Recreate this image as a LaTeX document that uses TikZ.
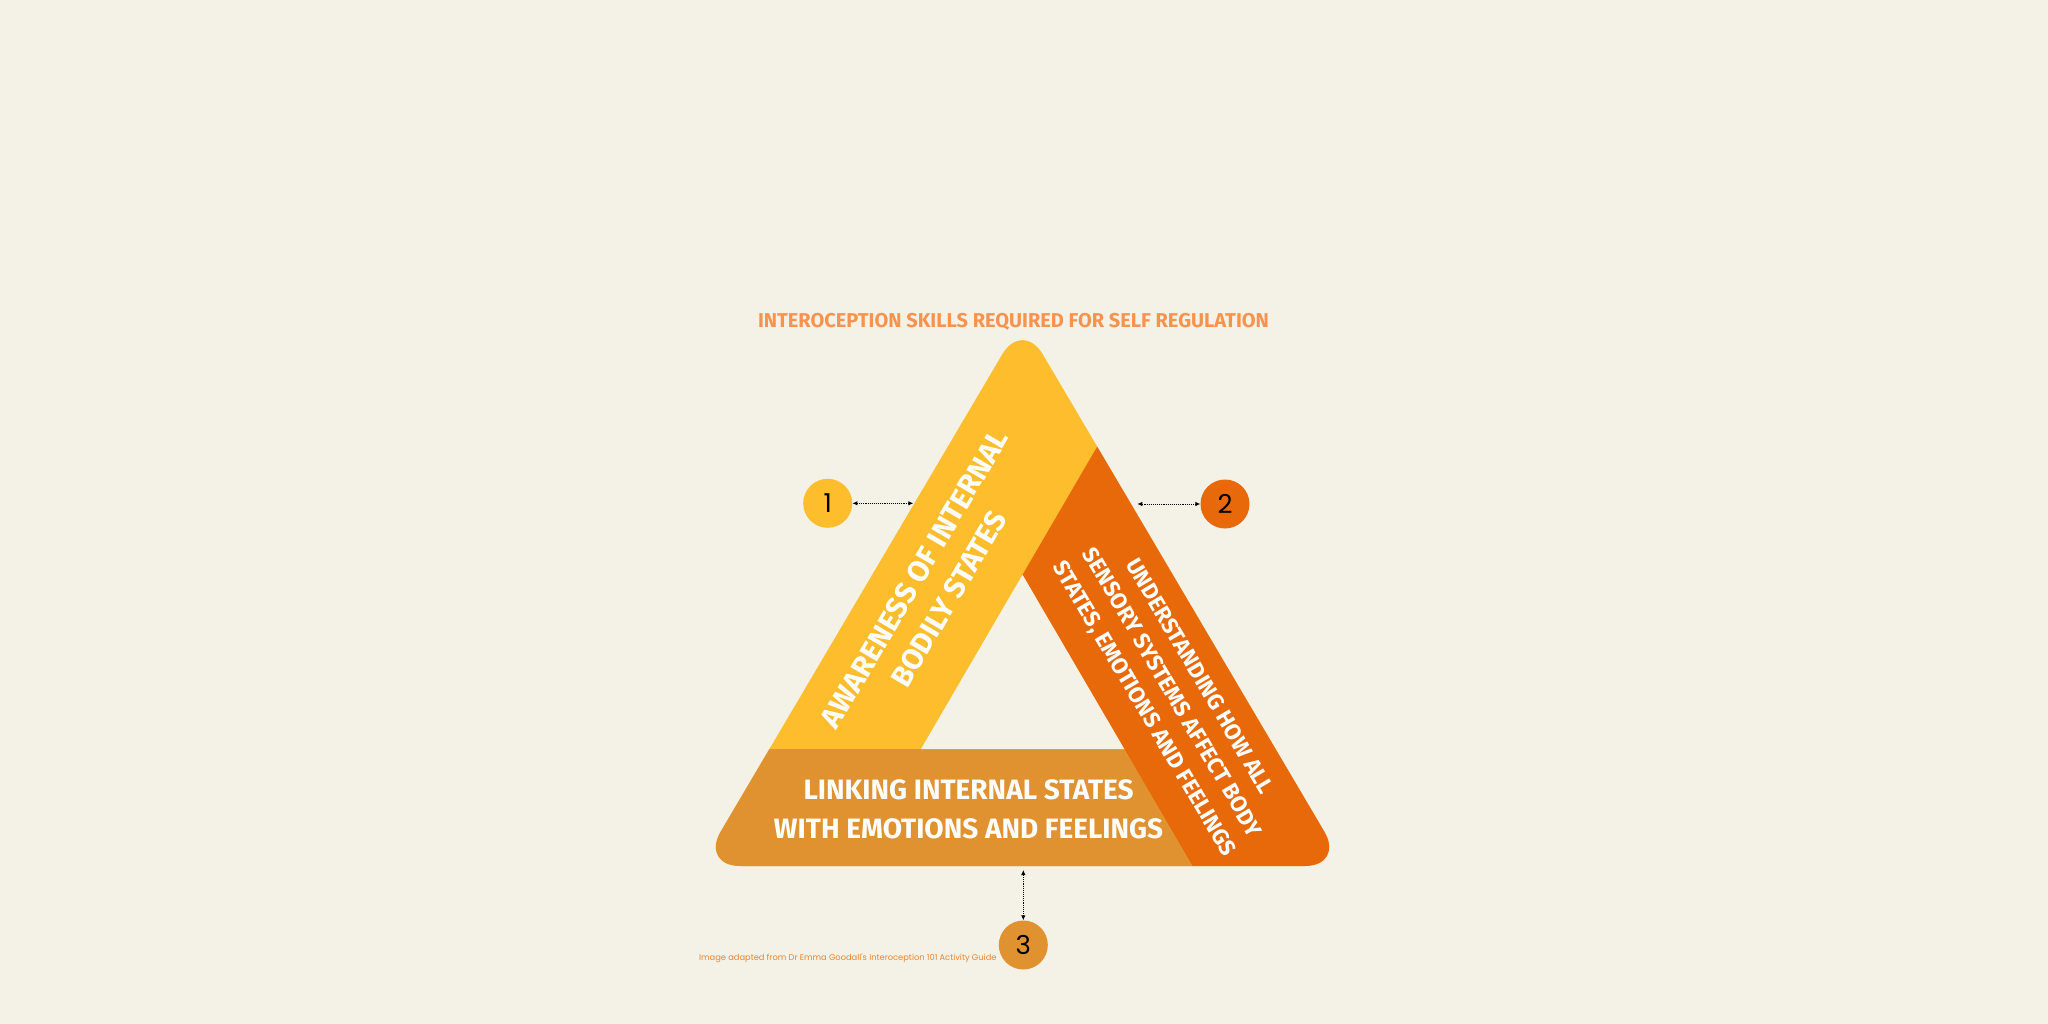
\documentclass[tikz,border=0pt]{standalone}
\usepackage{fontspec}
\usepackage{tikz}
\usetikzlibrary{arrows.meta,calc}

\newfontfamily\armfont{Fira Sans}
\newfontfamily\creditfont{Poppins}

\definecolor{paper}{HTML}{F4F2E6}
\definecolor{armyellow}{HTML}{FDBD2D}
\definecolor{armorange}{HTML}{E8690A}
\definecolor{barorange}{HTML}{E09130}
\definecolor{titleorange}{HTML}{F7934E}
\definecolor{creditorange}{HTML}{E8842F}

\begin{document}
\begin{tikzpicture}[x=1pt,y=-1pt,
    armtext/.style={text=white,align=center,inner sep=0pt},
    badge/.style={circle,minimum size=49pt,inner sep=0pt,text=black,
        font=\creditfont\fontsize{26}{26}\selectfont},
    link/.style={densely dotted,line width=0.9pt,
        {Latex[length=5pt,width=4.5pt]}-{Latex[length=5pt,width=4.5pt]}}]

    % Page
    \fill[paper] (0,0) rectangle (2048,1024);
    \useasboundingbox (0,0) rectangle (2048,1024);

    % Triangle corners
    \coordinate (top) at (1022.5,320);
    \coordinate (bl) at (700.4,866);
    \coordinate (br) at (1344.6,866);

    % Where the arms meet
    \coordinate (split) at (1097.2,446.6);
    \coordinate (inapex) at (1022.5,574.8);
    \coordinate (inleft) at (921,749);
    \coordinate (inright) at (1124.3,749);
    \coordinate (splitbase) at (1192.3,866);

    % Yellow arm (whole triangle first)
    \fill[armyellow,rounded corners=40pt] (top) -- (bl) -- (br) -- cycle;

    % Orange arm and bottom bar
    \begin{scope}
        \clip[rounded corners=40pt] (top) -- (bl) -- (br) -- cycle;
        \fill[armorange] (split) -- (inapex) -- (splitbase) -- (1400,900) -- (1400,446.6) -- cycle;
        \fill[barorange] (600,749) -- (inright) -- (splitbase) -- (600,900) -- cycle;
    \end{scope}

    % Hole in the middle
    \fill[paper] (inapex) -- (inleft) -- (inright) -- cycle;

    % Title
    \node[text=titleorange,font=\armfont\bfseries\fontsize{20}{20}\selectfont] (title)
        at (1013.5,322) {INTEROCEPTION SKILLS REQUIRED FOR SELF REGULATION};

    % Arm labels
    \node[armtext,rotate=59.5,font=\armfont\bfseries\fontsize{29.5}{40}\selectfont] (aware)
        at (931.6,588.9) {AWARENESS OF INTERNAL\\BODILY STATES};
    \node[armtext,rotate=-59.5,font=\armfont\bfseries\fontsize{22.5}{32}\selectfont] (understand)
        at (1171,693) {UNDERSTANDING HOW ALL\\SENSORY SYSTEMS AFFECT BODY\\STATES, EMOTIONS AND FEELINGS};
    \node[armtext,font=\armfont\bfseries\fontsize{28}{39.2}\selectfont] (linking)
        at (968.6,809.4) {LINKING INTERNAL STATES\\WITH EMOTIONS AND FEELINGS};

    % Numbered badges
    \node[badge,fill=armyellow] (one) at (827.7,503.3) {1};
    \node[badge,fill=armorange] (two) at (1225,504) {2};
    \node[badge,fill=barorange] (three) at (1023.3,945) {3};

    % Pointers to the arms
    \coordinate (onetip) at (913.3,503.3);
    \coordinate (twotip) at (1137.3,504);
    \coordinate (threetip) at (1023.3,870);
    \draw[link] (one) -- (onetip);
    \draw[link] (two) -- (twotip);
    \draw[link] (three) -- (threetip);

    % Credit
    \node[text=creditorange,anchor=east,inner sep=0pt,
        font=\creditfont\fontsize{8.3}{10}\selectfont] (credit)
        at (996.7,958.7) {Image adapted from Dr Emma Goodall's Interoception 101 Activity Guide};

\end{tikzpicture}
\end{document}
